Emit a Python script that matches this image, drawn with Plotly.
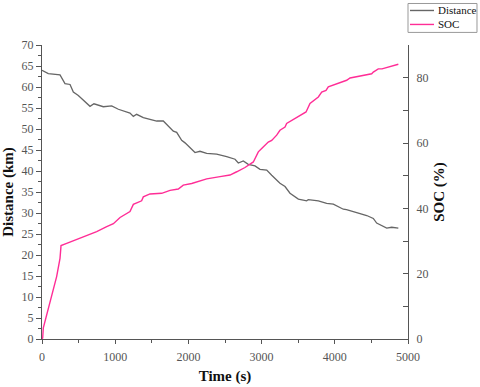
import plotly.graph_objects as go

time_dist = [0, 86, 246, 314, 383, 428, 496, 587, 656, 710, 838, 952, 1043, 1202, 1248, 1293, 1384, 1567, 1657, 1794,
             1840, 1908, 1954, 2090, 2158, 2250, 2386, 2523, 2637, 2682, 2750, 2818, 2910, 2978, 3070, 3138, 3251, 3320,
             3388, 3502, 3616, 3638, 3775, 3889, 3980, 4116, 4160, 4299, 4436, 4526, 4572, 4709, 4777, 4868]
distance_km = [64.0, 63.2, 62.9, 60.8, 60.6, 58.8, 58.0, 56.4, 55.4, 56.0, 55.3, 55.5, 54.7, 53.8, 53.0, 53.5, 52.7,
               51.9, 51.9, 49.5, 49.2, 47.3, 46.7, 44.4, 44.7, 44.2, 44.0, 43.4, 42.8, 41.9, 42.4, 41.6, 41.2, 40.4,
               40.2, 39.0, 37.1, 36.3, 34.7, 33.3, 32.9, 33.2, 32.9, 32.3, 32.1, 30.9, 30.8, 30.1, 29.4, 28.7, 27.6,
               26.4, 26.6, 26.4]

time_soc = [0, 9, 18, 41, 154, 200, 246, 260, 337, 428, 519, 633, 747, 884, 975, 1066, 1202, 1248, 1361, 1384,
            1475, 1635, 1749, 1862, 1930, 2045, 2113, 2250, 2432, 2568, 2660, 2773, 2887, 2955, 3001, 3091, 3138, 3206,
            3251, 3320, 3342, 3456, 3525, 3607, 3661, 3775, 3821, 3880, 3911, 4026, 4162, 4208, 4344, 4504, 4526,
            4594, 4645, 4868]
soc_pct = [0, 0.3, 3.4, 5.4, 14.5, 19.1, 24.7, 28.6, 29.3, 30.1, 30.8, 31.8, 32.9, 34.4, 35.3, 37.2, 39.0, 41.2,
           42.3, 43.5, 44.4, 44.6, 45.5, 45.9, 47.1, 47.6, 48.1, 49.0, 49.7, 50.2, 51.2, 52.5, 54.2, 57.3, 58.3, 60.3,
           60.8, 62.4, 63.9, 64.9, 66.0, 67.5, 68.5, 69.5, 72.1, 74.1, 75.6, 76.1, 77.2, 78.2, 79.2, 79.9, 80.4, 81.2,
           81.7, 82.7, 82.7, 84.1]

series_names = ["Distance", "SOC"]
series_colors = ["#666666", "#ff2d96"]

FONT = "Liberation Serif"
AX = "#555555"

fig = go.Figure()
fig.add_trace(go.Scatter(x=time_dist, y=distance_km, mode="lines", name=series_names[0],
                         line=dict(color=series_colors[0], width=1.3), showlegend=False))
fig.add_trace(go.Scatter(x=time_soc, y=soc_pct, mode="lines", name=series_names[1], yaxis="y2",
                         line=dict(color=series_colors[1], width=1.4), showlegend=False))

# compact boxed legend (upper right, outside the plot area)
fig.add_shape(type="rect", xref="paper", yref="paper", x0=1.0, x1=1.1885, y0=1.0428, y1=1.1412,
              line=dict(color="#999999", width=1), fillcolor="white", layer="above")
for i, (nm, col) in enumerate(zip(series_names, series_colors)):
    yy = 1.1174 - i * 0.0475
    fig.add_shape(type="line", xref="paper", yref="paper", x0=1.0055, x1=1.071, y0=yy, y1=yy,
                  line=dict(color=col, width=1.4), layer="above")
    fig.add_annotation(xref="paper", yref="paper", x=1.077, y=yy, xanchor="left", yanchor="middle",
                       text=nm, showarrow=False, font=dict(family=FONT, size=11, color="#111111"))

fig.update_layout(
    width=480, height=387,
    margin=dict(l=42, r=72, t=44.6, b=47.7, autoexpand=False),
    paper_bgcolor="white", plot_bgcolor="white",
    font=dict(family=FONT, color=AX, size=12),
    xaxis=dict(range=[0, 5000], dtick=1000, tick0=0, showgrid=False, zeroline=False,
               showline=True, linecolor=AX, linewidth=1, ticks="outside", ticklen=4, tickcolor=AX,
               minor=dict(dtick=500, ticks="outside", ticklen=3, tickcolor=AX),
               tickfont=dict(family=FONT, size=12, color=AX), ticklabelstandoff=3,
               title=dict(text="<b>Time (s)</b>", font=dict(family=FONT, size=15, color="#111111"), standoff=7)),
    yaxis=dict(range=[0, 70], dtick=5, tick0=0, showgrid=False, zeroline=False,
               showline=True, linecolor=AX, linewidth=1, ticks="outside", ticklen=5, tickcolor=AX,
               minor=dict(dtick=2.5, ticks="outside", ticklen=3, tickcolor=AX),
               tickfont=dict(family=FONT, size=12, color=AX),
               title=dict(text="<b>Distance (km)</b>", font=dict(family=FONT, size=15, color="#111111"), standoff=4)),
    yaxis2=dict(range=[0, 90], dtick=20, tick0=0, overlaying="y", side="right", showgrid=False, zeroline=False,
                showline=True, linecolor=AX, linewidth=1, ticks="inside", ticklen=5, tickcolor=AX,
                minor=dict(dtick=10, ticks="inside", ticklen=5, tickcolor=AX),
                tickfont=dict(family=FONT, size=12, color=AX), ticklabelstandoff=5,
                title=dict(text="<b>SOC (%)</b>", font=dict(family=FONT, size=15, color="#111111"), standoff=6)),
)

fig.write_html("out.html", config={"displayModeBar": False},
               post_script="document.body.style.margin='0px';document.body.style.padding='0px';")
